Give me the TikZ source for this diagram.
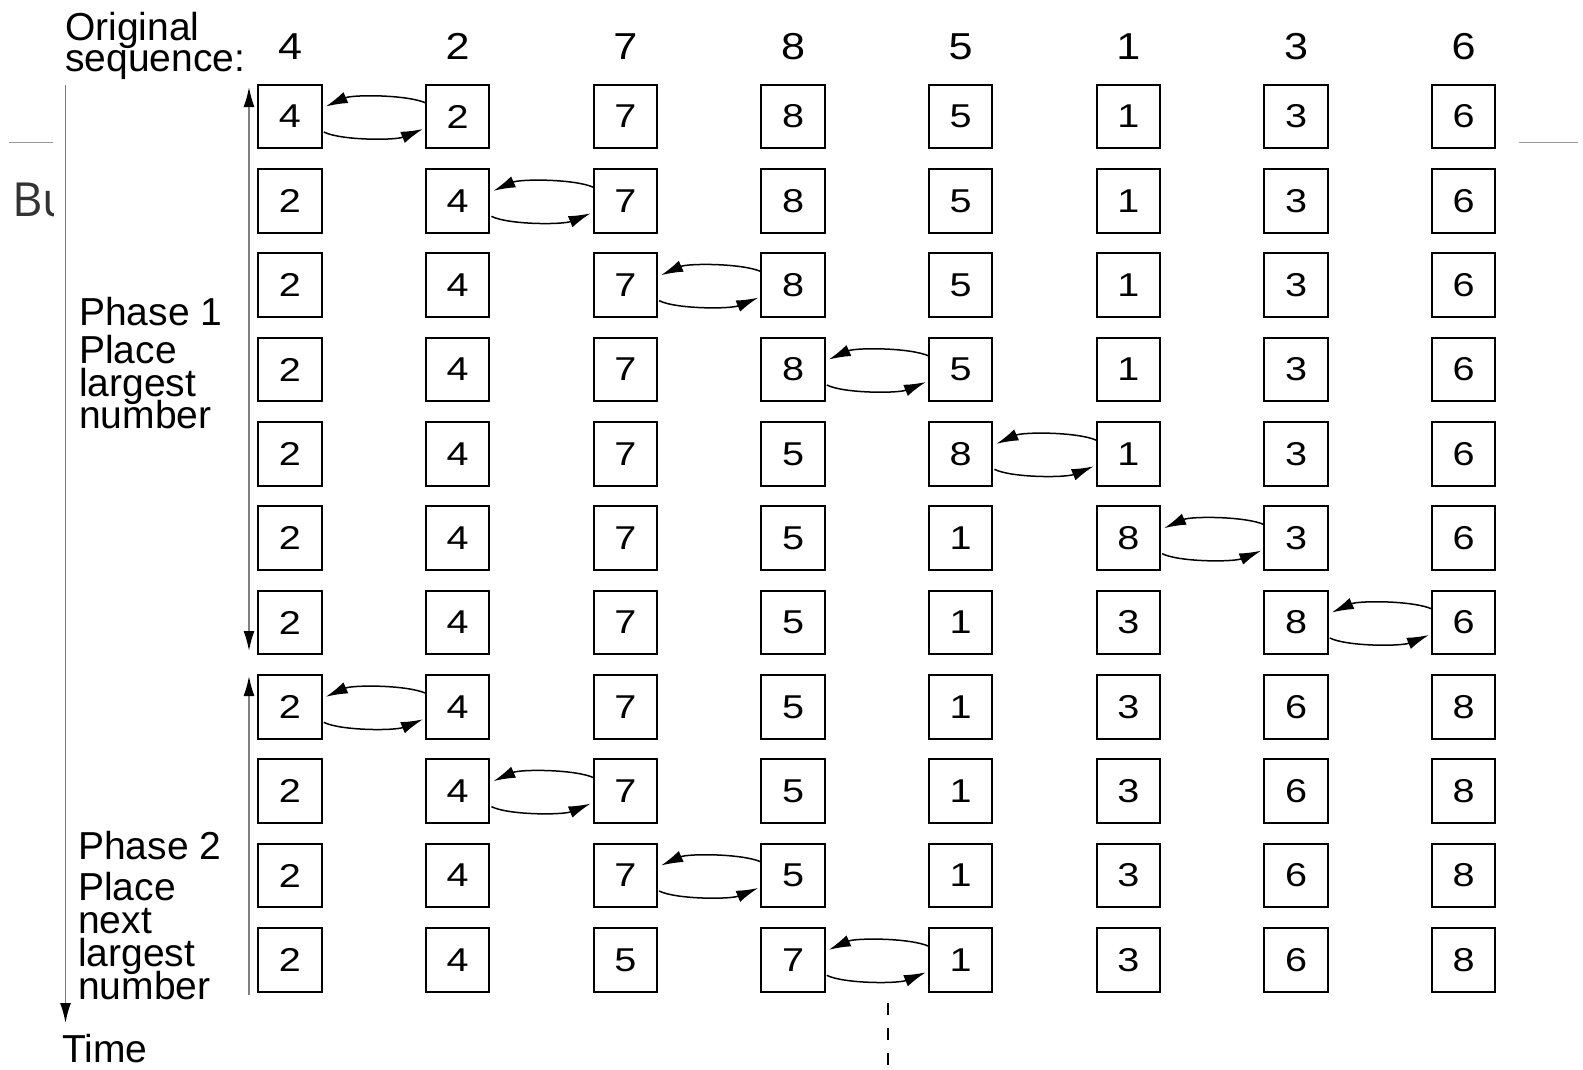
\documentclass[tikz,border=0pt]{standalone}
\usepackage{fontspec}
\setmainfont{Liberation Sans}
\newfontfamily\boxfont[FakeStretch=1.2]{Liberation Sans}
\newfontfamily\headfont[FakeStretch=1.15]{Liberation Sans}
\newfontfamily\slidefont{Open Sans}
\usetikzlibrary{arrows.meta,calc}
\begin{document}
\begin{tikzpicture}[x=1pt,y=-1pt,
 >={Latex[black,length=20pt,width=11pt]},
 numbox/.style={draw=black,line width=2pt,minimum size=63.5pt,inner sep=0pt,font=\fontsize{33}{33}\boxfont},
 headnum/.style={inner sep=0pt,font=\fontsize{37.5}{37.5}\headfont},
 lbl/.style={anchor=base west,inner sep=0pt,font=\fontsize{39}{39}\selectfont},
 swaparrow/.style={line width=1.5pt,-{Latex[length=22pt,width=12pt]}},
 axisline/.style={draw=gray,line width=1.8pt},
 slideline/.style={draw=gray!80,line width=1.5pt}
]
\useasboundingbox (0,0) rectangle (1583,1069);
% slide remnants
\begin{scope}
\clip (0,150) rectangle (53,240);
\node[anchor=base west,inner sep=0pt,text=black!80,font=\fontsize{47}{47}\slidefont] (bu) at (12,216.7) {Bu};
\end{scope}
\coordinate (sl1) at (9,142.5); \coordinate (sl2) at (52.7,142.5);
\coordinate (sr1) at (1519,142.5); \coordinate (sr2) at (1578,142.5);
\draw[slideline] (sl1) -- (sl2);
\draw[slideline] (sr1) -- (sr2);
% header
\node[lbl] (orig1) at (65,40.5) {Original};
\node[lbl] (orig2) at (65,71.5) {sequence:};
\foreach \v [count=\c] in {4,2,7,8,5,1,3,6}
  \node[headnum] (h\c) at ({290+(\c-1)*167.67},46.5) {\v};
% rows
\foreach \r/\vals/\s in {
 1/{4,2,7,8,5,1,3,6}/1,
 2/{2,4,7,8,5,1,3,6}/2,
 3/{2,4,7,8,5,1,3,6}/3,
 4/{2,4,7,8,5,1,3,6}/4,
 5/{2,4,7,5,8,1,3,6}/5,
 6/{2,4,7,5,1,8,3,6}/6,
 7/{2,4,7,5,1,3,8,6}/7,
 8/{2,4,7,5,1,3,6,8}/1,
 9/{2,4,7,5,1,3,6,8}/2,
 10/{2,4,7,5,1,3,6,8}/3,
 11/{2,4,5,7,1,3,6,8}/4}{
  \foreach \v [count=\c] in \vals {
    \node[numbox] (b-\r-\c) at ({290+(\c-1)*167.67},{116.5+(\r-1)*84.33}) {\v};
  }
  \pgfmathtruncatemacro\t{\s+1}
  \draw[swaparrow] ($(b-\r-\t.west)+(1,-13.5)$) .. controls ($(b-\r-\t.west)+(-18,-22)$) and ($(b-\r-\s.east)+(30,-22)$) .. ($(b-\r-\s.east)+(3,-10)$);
  \draw[swaparrow] ($(b-\r-\s.east)+(1,15.5)$) .. controls ($(b-\r-\s.east)+(18,24)$) and ($(b-\r-\t.west)+(-30,24)$) .. ($(b-\r-\t.west)+(-2,12.5)$);
}
% phase labels
\node[lbl] (p1a) at (79,325) {Phase 1};
\node[lbl] (p1b) at (79,363) {Place};
\node[lbl] (p1c) at (79,396) {largest};
\node[lbl] (p1d) at (79,428) {number};
\node[lbl] (p2a) at (78,859) {Phase 2};
\node[lbl] (p2b) at (78,900) {Place};
\node[lbl] (p2c) at (78,933) {next};
\node[lbl] (p2d) at (78,966) {largest};
\node[lbl] (p2e) at (78,999) {number};
\node[lbl] (time) at (62,1062) {Time};
% axes
\coordinate (t1) at (65.5,85); \coordinate (t2) at (65.5,1023);
\draw[axisline,->] (t1) -- (t2);
\coordinate (ph1a) at (249,87); \coordinate (ph1b) at (249,651);
\draw[axisline,<->] (ph1a) -- (ph1b);
\coordinate (ph2a) at (249,676); \coordinate (ph2b) at (249,995);
\draw[axisline,<-] (ph2a) -- (ph2b);
% dashed continuation
\coordinate (d1) at (887.5,1003); \coordinate (d2) at (887.5,1069);
\draw[black,line width=2pt,dash pattern=on 12pt off 13pt] (d1) -- (d2);
\end{tikzpicture}
\end{document}
